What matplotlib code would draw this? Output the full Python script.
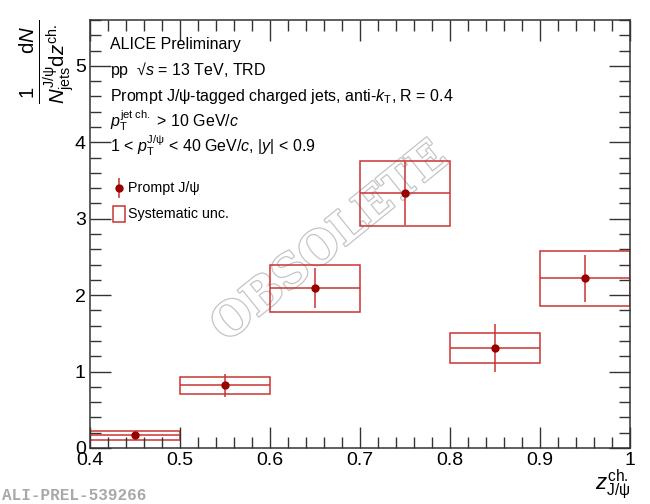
import numpy as np
import matplotlib
matplotlib.use('Agg')
import matplotlib.pyplot as plt
from matplotlib.patches import Rectangle
from matplotlib.ticker import MultipleLocator
import matplotlib.patheffects as pe

plt.rcParams['font.family'] = ['Liberation Sans', 'DejaVu Sans']
plt.rcParams['mathtext.fontset'] = 'custom'
plt.rcParams['mathtext.rm'] = 'Liberation Sans'
plt.rcParams['mathtext.it'] = 'Liberation Sans:italic'
plt.rcParams['mathtext.bf'] = 'Liberation Sans:bold'

## data
z_centers = [0.45, 0.55, 0.65, 0.75, 0.85, 0.95]
z_halfwidth = [0.05, 0.05, 0.05, 0.05, 0.05, 0.05]
yield_val = [0.165, 0.82, 2.09, 3.33, 1.31, 2.22]
stat_err = [0.03, 0.15, 0.26, 0.41, 0.31, 0.31]
sys_err = [0.06, 0.115, 0.305, 0.425, 0.20, 0.36]

line_col = '#cc3333'
mark_col = '#990000'

fig = plt.figure(figsize=(6.5, 5.04), dpi=100)
ax = fig.add_axes([90/650, 1-448/504, 540/650, 428/504])
ax.patch.set_alpha(0)

# systematic boxes
for x, hw, y, s in zip(z_centers, z_halfwidth, yield_val, sys_err):
    ax.add_patch(Rectangle((x-hw, y-s), 2*hw, 2*s, fill=False,
                           edgecolor=line_col, lw=1.1))

ax.errorbar(z_centers, yield_val, xerr=z_halfwidth, yerr=stat_err, fmt='o',
            ms=5, mfc=mark_col, mec=mark_col, ecolor=line_col, elinewidth=1.1,
            capsize=0)

ax.set_xlim(0.4, 1.0)
ax.set_ylim(0, 5.6)
ax.xaxis.set_major_locator(MultipleLocator(0.1))
ax.xaxis.set_minor_locator(MultipleLocator(0.02))
ax.yaxis.set_major_locator(MultipleLocator(1))
ax.yaxis.set_minor_locator(MultipleLocator(0.2))
ax.set_xticks([0.4, 0.5, 0.6, 0.7, 0.8, 0.9, 1.0])
ax.set_xticklabels(['0.4', '0.5', '0.6', '0.7', '0.8', '0.9', '1'])
ax.tick_params(which='both', direction='in', top=True, right=True,
               labelsize=14, color='#333333')
ax.tick_params(which='major', length=15, width=1, pad=3)
ax.tick_params(which='minor', length=8, width=1)
for sp in ax.spines.values():
    sp.set_linewidth(1.1)
    sp.set_color('#333333')

ax.set_ylabel(r'$\frac{1\qquad \mathrm{d}N}{N^{\mathrm{J/ψ}}_{\mathrm{jets}}\mathrm{d}z^{\mathrm{ch.}}}$',
              fontsize=21, ha='right', va='top')
ax.yaxis.set_label_coords(-0.135, 1.0)
ax.set_xlabel(r'$z^{\mathrm{ch.}}_{\mathrm{J/ψ}}$', fontsize=16, ha='right')
ax.xaxis.set_label_coords(1.0, -0.045)

# annotations
fs = 11.5
tx = 110/650
lines = [
    (45, 'ALICE Preliminary'),
    (70, r'pp  √$s$ = 13 TeV, TRD'),
    (96, r'Prompt J/ψ-tagged charged jets, anti-$k_{\mathrm{T}}$, R = 0.4'),
    (121, r'$p_{\mathrm{T}}^{\mathrm{jet\ ch.}}$ > 10 GeV/$c$'),
    (146, r'1 < $p_{\mathrm{T}}^{\mathrm{J/ψ}}$ < 40 GeV/$c$, |$y$| < 0.9'),
]
for ypx, s in lines:
    fig.text(tx, 1-ypx/504, s, fontsize=fs, va='center', ha='left')

# legend
ax.errorbar([119/650], [1-188/504], yerr=[0.02], fmt='o', ms=5, mfc=mark_col,
            mec=mark_col, ecolor=line_col, elinewidth=1.1,
            transform=fig.transFigure, clip_on=False)
fig.text(128/650, 1-188/504, 'Prompt J/ψ', fontsize=10.3, va='center')
fig.add_artist(Rectangle((113/650, 1-222/504), 12/650, 16/504, fill=False,
                         edgecolor=line_col, lw=1.1, transform=fig.transFigure))
fig.text(128/650, 1-214/504, 'Systematic unc.', fontsize=10.3, va='center')

# watermark
fig.text(330/650, 1-242/504, 'OBSOLETE', fontsize=33, fontfamily='DejaVu Serif',
         fontweight='bold', color='white', rotation=39, ha='center', va='center',
         path_effects=[pe.Stroke(linewidth=1.8, foreground='#c4c4c4'), pe.Normal()],
         zorder=-1)

fig.text(2/650, 1-495/504, 'ALI-PREL-539266', fontsize=11.5,
         fontfamily='Liberation Mono', fontweight='bold', color='#a8a8a8',
         va='center', ha='left')

fig.savefig('out.png', dpi=100)
